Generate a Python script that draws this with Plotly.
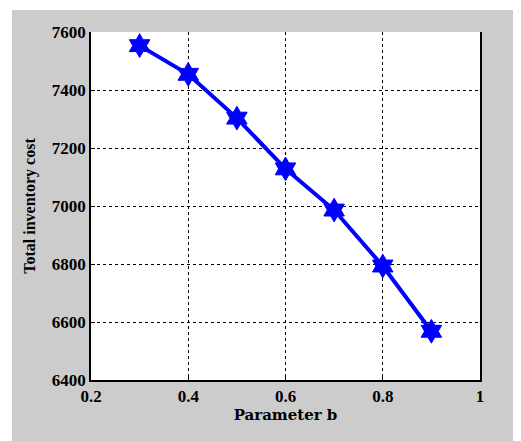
import plotly.graph_objects as go

b_values = [0.3, 0.4, 0.5, 0.6, 0.7, 0.8, 0.9]
total_cost = [7553, 7454, 7303, 7128, 6986, 6793, 6568]
x_ticks = [0.2, 0.4, 0.6, 0.8, 1.0]
x_tick_labels = ["0.2", "0.4", "0.6", "0.8", "1"]
y_ticks = [6400, 6600, 6800, 7000, 7200, 7400, 7600]

# page body has an 8px margin, so figure sits at (8, 8)
W, H = 513, 433
L, R, T, B = 83, 41, 24, 61
PW, PH = W - L - R, H - T - B

fig = go.Figure()
fig.add_trace(go.Scatter(
    x=b_values, y=total_cost, mode="lines+markers",
    line=dict(color="#0000ff", width=4),
    marker=dict(symbol="hexagram", size=18, color="#0000ff",
                line=dict(color="#0000ff", width=1)),
    showlegend=False,
))

tick_font = dict(family="Liberation Serif", size=17, color="black")
xt_font = dict(family="DejaVu Serif", size=15, color="black")
yt_font = dict(family="Liberation Serif", size=16, color="black")

fig.update_layout(
    width=W, height=H,
    margin=dict(l=L, r=R, t=T, b=B, pad=0),
    paper_bgcolor="#cccccc",
    plot_bgcolor="white",
    xaxis=dict(
        range=[0.2, 1.0], tickvals=x_ticks, ticktext=[f"<b>{t}</b>" for t in x_tick_labels],
        tickfont=tick_font,
        showgrid=True, gridcolor="black", gridwidth=1, griddash="3px,3px",
        showline=True, linecolor="black", linewidth=1.5, mirror=False,
        ticks="inside", ticklen=4, tickcolor="black",
        zeroline=False,
        title=dict(text="<b>Parameter b</b>", standoff=4, font=xt_font),
    ),
    yaxis=dict(
        range=[6400, 7600], tickvals=y_ticks, ticktext=[f"<b>{t}</b>" for t in y_ticks],
        tickfont=tick_font,
        showgrid=True, gridcolor="black", gridwidth=1, griddash="3px,3px",
        showline=True, linecolor="black", linewidth=1.5, mirror=True,
        ticks="inside", ticklen=4, tickcolor="black",
        zeroline=False,
        title=dict(text="<b>Total inventory cost</b>", standoff=12, font=yt_font),
    ),
    shapes=[
        dict(type="rect", xref="paper", yref="paper", layer="above",
             x0=-L / PW, x1=(W - L) / PW,
             y0=(PH + T - 2) / PH, y1=(PH + T) / PH,
             fillcolor="white", line=dict(width=0)),
        dict(type="rect", xref="paper", yref="paper", layer="above",
             x0=-L / PW, x1=(4 - L) / PW,
             y0=-B / PH, y1=(PH + T) / PH,
             fillcolor="white", line=dict(width=0)),
    ],
)

fig.write_html("out.html")
